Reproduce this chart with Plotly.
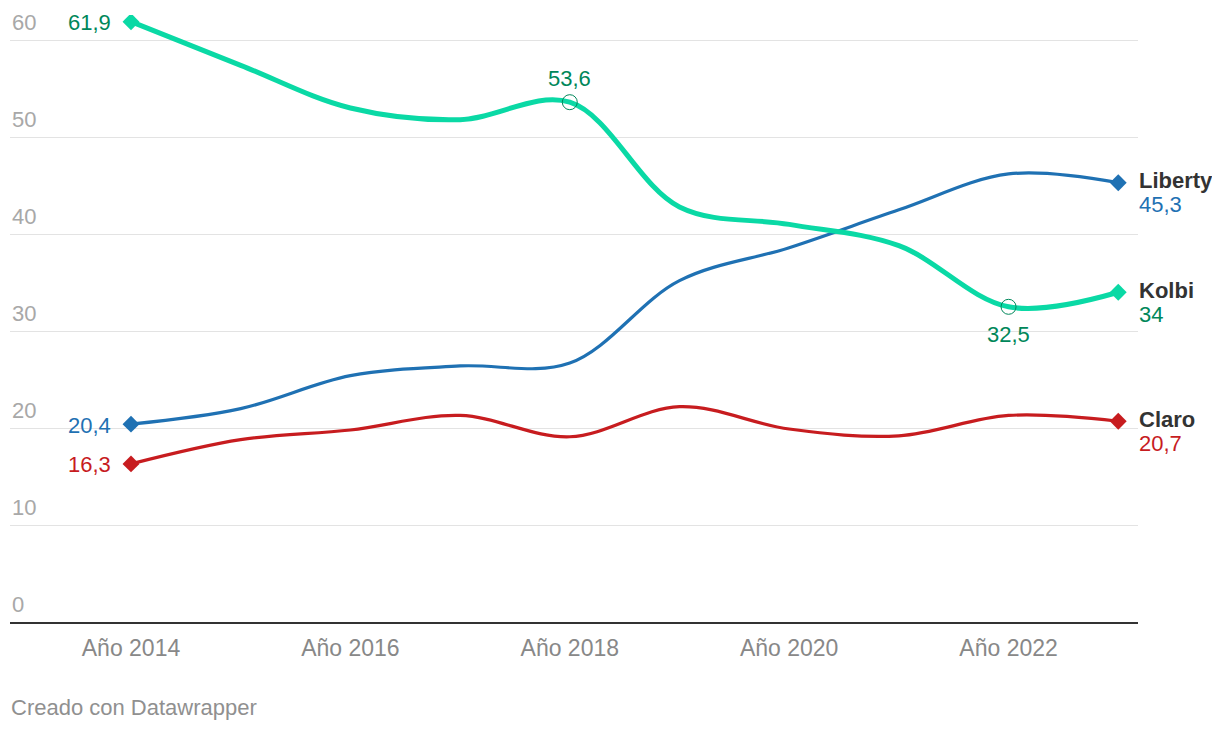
import plotly.graph_objects as go

years = [2014, 2015, 2016, 2017, 2018, 2019, 2020, 2021, 2022, 2023]
kolbi = [61.9, 57.4, 53.0, 51.8, 53.6, 42.8, 41.0, 38.8, 32.5, 34.0]
liberty = [20.4, 22.0, 25.4, 26.4, 26.7, 35.2, 38.6, 42.5, 46.2, 45.3]
claro = [16.3, 18.8, 19.8, 21.3, 19.1, 22.2, 19.9, 19.2, 21.3, 20.7]

series_names = ["Liberty", "Kolbi", "Claro"]
x_tick_vals = [2014, 2016, 2018, 2020, 2022]
x_tick_text = ["Año 2014", "Año 2016", "Año 2018", "Año 2020", "Año 2022"]
y_tick_vals = [0, 10, 20, 30, 40, 50, 60]
highlight_years = [2018, 2022]

FONT = "Liberation Sans, Arial, sans-serif"
line_cols = {"Liberty": "#1f71b3", "Kolbi": "#0ad9a5", "Claro": "#c71c1f"}
text_cols = {"Liberty": "#1f71b3", "Kolbi": "#00875a", "Claro": "#c71c1f"}
widths = {"Liberty": 3.2, "Kolbi": 5, "Claro": 3.2}
data = {"Liberty": liberty, "Kolbi": kolbi, "Claro": claro}

def fmt(v):
    s = f"{v:.1f}".rstrip("0").rstrip(".")
    return s.replace(".", ",")

fig = go.Figure()
for name in ["Claro", "Liberty", "Kolbi"]:
    vals = data[name]
    fig.add_trace(go.Scatter(
        x=years, y=vals, mode="lines",
        line=dict(color=line_cols[name], width=widths[name], shape="spline", smoothing=1.0),
        hoverinfo="skip", showlegend=False))
    fig.add_trace(go.Scatter(
        x=[years[0], years[-1]], y=[vals[0], vals[-1]], mode="markers",
        marker=dict(symbol="diamond", size=13, color=line_cols[name]),
        hoverinfo="skip", showlegend=False))

# highlighted Kolbi points
hx = highlight_years
hy = [kolbi[years.index(y)] for y in hx]
fig.add_trace(go.Scatter(
    x=hx, y=hy, mode="markers",
    marker=dict(symbol="circle-open", size=15, color="#00875a", line=dict(width=1)),
    hoverinfo="skip", showlegend=False))

ann = []
# y tick labels (Datawrapper style: above the gridline, inside left)
for v in y_tick_vals:
    ann.append(dict(x=0, y=v, xref="paper", yref="y", text=str(v), showarrow=False,
                    xanchor="left", yanchor="bottom", yshift=3,
                    font=dict(family=FONT, size=22, color="#a8a8a8")))

for name in series_names:
    vals = data[name]
    ann.append(dict(x=years[0], y=vals[0], xref="x", yref="y", text=fmt(vals[0]),
                    showarrow=False, xanchor="right", yanchor="middle", xshift=-18, yshift=-1,
                    font=dict(family=FONT, size=22, color=text_cols[name])))
    ann.append(dict(x=years[-1], y=vals[-1], xref="x", yref="y", text=f"<b>{name}</b>",
                    showarrow=False, xanchor="left", yanchor="middle", xshift=19, yshift=2,
                    font=dict(family=FONT, size=22, color="#333333")))
    ann.append(dict(x=years[-1], y=vals[-1], xref="x", yref="y", text=fmt(vals[-1]),
                    showarrow=False, xanchor="left", yanchor="middle", xshift=19, yshift=-22,
                    font=dict(family=FONT, size=22, color=text_cols[name])))

ann.append(dict(x=hx[0], y=hy[0], xref="x", yref="y", text=fmt(hy[0]), showarrow=False,
                xanchor="center", yanchor="bottom", yshift=9,
                font=dict(family=FONT, size=22, color=text_cols["Kolbi"])))
ann.append(dict(x=hx[1], y=hy[1], xref="x", yref="y", text=fmt(hy[1]), showarrow=False,
                xanchor="center", yanchor="top", yshift=-13,
                font=dict(family=FONT, size=22, color=text_cols["Kolbi"])))

ann.append(dict(x=0, y=0, xref="paper", yref="paper", text="Creado con Datawrapper",
                showarrow=False, xanchor="left", yanchor="middle", yshift=-85, xshift=-1,
                font=dict(family=FONT, size=22, color="#909090")))

fig.update_layout(
    width=1212, height=722, autosize=False,
    margin=dict(l=2, r=82, t=7, b=108),
    paper_bgcolor="white", plot_bgcolor="white",
    annotations=ann,
    xaxis=dict(range=[2012.897, 2023.18], tickvals=x_tick_vals, ticktext=x_tick_text,
               showgrid=False, zeroline=False, showline=True, linecolor="#333333", linewidth=2,
               ticks="", ticklabelstandoff=4,
               tickfont=dict(family=FONT, size=23, color="#888888")),
    yaxis=dict(range=[0, 62.59], tickvals=y_tick_vals, showgrid=True, gridcolor="#e3e3e3",
               gridwidth=1, zeroline=False, showline=False, ticks="", showticklabels=False),
)

fig.write_html("out.html")
